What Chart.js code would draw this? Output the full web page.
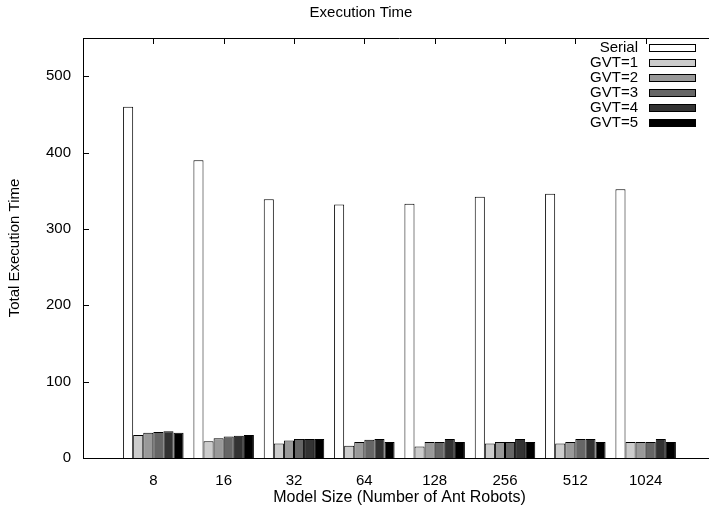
<!DOCTYPE html>
<html>
<head>
<meta charset="utf-8">
<title>Execution Time</title>
<script src="https://cdn.jsdelivr.net/npm/chart.js@4.4.1/dist/chart.umd.min.js"></script>
<style>
html, body { margin: 0; padding: 0; background: #fff; overflow: hidden; }
#wrap { width: 730px; height: 512px; }
</style>
</head>
<body>
<div id="wrap"><canvas id="execChart" width="730" height="512"></canvas></div>
<script>
// Values
const modelSizes = ['8', '16', '32', '64', '128', '256', '512', '1024'];
const serialTimes = [460, 390, 339, 332, 333, 342, 346, 352];
const gvt1Times = [30, 22, 19, 16, 15, 19, 19, 21];
const gvt2Times = [33, 26, 23, 21, 21, 21, 21, 21];
const gvt3Times = [34, 28, 25, 24, 21, 21, 25, 21];
const gvt4Times = [35, 29, 25, 25, 25, 25, 25, 25];
const gvt5Times = [33, 30, 25, 21, 21, 21, 21, 21];
const yTickValues = [0, 100, 200, 300, 400, 500];

const seriesNames = ['Serial', 'GVT=1', 'GVT=2', 'GVT=3', 'GVT=4', 'GVT=5'];
const seriesColors = ['#ffffff', '#cccccc', '#999999', '#666666', '#333333', '#000000'];
const seriesValues = [serialTimes, gvt1Times, gvt2Times, gvt3Times, gvt4Times, gvt5Times];

const FONT = '"Liberation Sans", Arial, Helvetica, sans-serif';

// gnuplot style: one empty slot on each side of the groups
const labels = ['', ...modelSizes, ''];
const pad = arr => [null, ...arr, null];

// Frame, inward ticks and the legend (box on the right of the text)
const gnuplotFrame = {
    id: 'gnuplotFrame',
    afterDraw(chart) {
        const { ctx, chartArea: a, scales } = chart;
        ctx.save();
        ctx.strokeStyle = '#000';
        ctx.lineWidth = 1;
        ctx.beginPath();
        ctx.moveTo(a.left, a.top + 0.5);
        ctx.lineTo(a.right, a.top + 0.5);
        ctx.moveTo(a.right - 0.5, a.top);
        ctx.lineTo(a.right - 0.5, a.bottom);
        // y ticks on left and right
        yTickValues.forEach(v => {
            const y = Math.round(scales.y.getPixelForValue(v)) + 0.5;
            ctx.moveTo(a.left, y);
            ctx.lineTo(a.left + 6, y);
            ctx.moveTo(a.right, y);
            ctx.lineTo(a.right - 6, y);
        });
        // x ticks mirrored on top
        modelSizes.forEach((s, i) => {
            const x = Math.round(scales.x.getPixelForValue(i + 1)) + 0.5;
            ctx.moveTo(x, a.top);
            ctx.lineTo(x, a.top + 6);
        });
        ctx.stroke();

        // legend
        ctx.font = '15px ' + FONT;
        ctx.textAlign = 'right';
        ctx.textBaseline = 'middle';
        chart.data.datasets.forEach((ds, i) => {
            const y = 47.5 + i * 15;
            ctx.fillStyle = '#000';
            ctx.fillText(ds.label, 638, y);
            ctx.fillStyle = ds.backgroundColor;
            ctx.fillRect(649, Math.round(y - 4), 47, 8);
            ctx.strokeRect(649.5, Math.round(y - 4) + 0.5, 46, 7);
        });
        ctx.restore();
    }
};

const ctx = document.getElementById('execChart').getContext('2d');
const chart = new Chart(ctx, {
    type: 'bar',
    data: {
        labels: labels,
        datasets: seriesNames.map((name, i) => ({
            label: name,
            data: pad(seriesValues[i]),
            backgroundColor: seriesColors[i],
            borderColor: '#000',
            borderWidth: 1,
            categoryPercentage: 0.86,
            barPercentage: 1.0
        }))
    },
    options: {
        responsive: false,
        animation: false,
        devicePixelRatio: 1,
        layout: { padding: { left: 0, right: 8, top: 0, bottom: 0 } },
        plugins: {
            legend: { display: false },
            tooltip: { enabled: false },
            title: {
                display: true,
                text: 'Execution Time',
                color: '#000',
                font: { family: FONT, size: 15, weight: 'normal' },
                padding: { top: 4, bottom: 16 }
            }
        },
        scales: {
            x: {
                type: 'category',
                offset: false,
                grid: { display: false, drawTicks: false },
                border: { display: true, color: '#000', width: 1 },
                ticks: {
                    color: '#000',
                    font: { family: FONT, size: 15 },
                    padding: 14,
                    autoSkip: false,
                    maxRotation: 0
                },
                title: {
                    display: true,
                    text: 'Model Size (Number of Ant Robots)',
                    color: '#000',
                    font: { family: FONT, size: 16 },
                    padding: { top: 4, bottom: 5 }
                },
                afterFit: s => { s.height = 54; }
            },
            y: {
                min: 0,
                max: 550,
                grid: { display: false, drawTicks: false },
                border: { display: true, color: '#000', width: 1 },
                ticks: {
                    stepSize: 100,
                    color: '#000',
                    font: { family: FONT, size: 15 },
                    padding: 12
                },
                afterBuildTicks: s => {
                    s.ticks = yTickValues.map(v => ({ value: v }));
                },
                title: {
                    display: true,
                    text: 'Total Execution Time',
                    color: '#000',
                    font: { family: FONT, size: 15 },
                    padding: { top: 6, bottom: 4 }
                },
                afterFit: s => { s.width = 83; }
            }
        }
    },
    plugins: [gnuplotFrame]
});
</script>
</body>
</html>
